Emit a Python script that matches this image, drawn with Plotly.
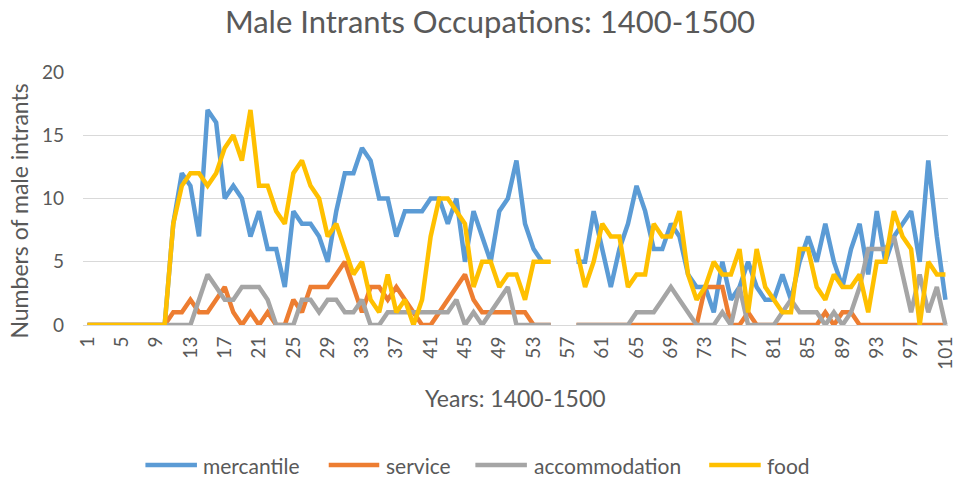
import plotly.graph_objects as go

years = list(range(1, 102))
tick_labels = list(range(1, 102, 4))

mercantile = [0, 0, 0, 0, 0, 0, 0, 0, 0, 0,
              8, 12, 11, 7, 17, 16, 10, 11, 10, 7,
              9, 6, 6, 3, 9, 8, 8, 7, 5, 9,
              12, 12, 14, 13, 10, 10, 7, 9, 9, 9,
              10, 10, 8, 10, 5, 9, 7, 5, 9, 10,
              13, 8, 6, 5, None, None, None, 5, 5, 9,
              6, 3, 6, 8, 11, 9, 6, 6, 8, 7,
              4, 3, 3, 1, 5, 2, 3, 5, 3, 2,
              2, 4, 2, 5, 7, 5, 8, 5, 3, 6,
              8, 4, 9, 5, 7, 8, 9, 5, 13, 7,
              2]

service = [0, 0, 0, 0, 0, 0, 0, 0, 0, 0,
           1, 1, 2, 1, 1, 2, 3, 1, 0, 1,
           0, 1, 0, 0, 2, 1, 3, 3, 3, 4,
           5, 3, 1, 3, 3, 2, 3, 2, 1, 0,
           0, 1, 2, 3, 4, 2, 1, 1, 1, 1,
           1, 1, 0, 0, 0, None, None, 0, 0, 0,
           0, 0, 0, 0, 0, 0, 0, 0, 0, 0,
           0, 0, 3, 3, 3, 0, 0, 1, 0, 0,
           0, 0, 0, 0, 0, 0, 1, 0, 1, 1,
           0, 0, 0, 0, 0, 0, 0, 0, 0, 0,
           0]

accommodation = [0, 0, 0, 0, 0, 0, 0, 0, 0, 0,
                 0, 0, 0, 2, 4, 3, 2, 2, 3, 3,
                 3, 2, 0, 0, 0, 2, 2, 1, 2, 2,
                 1, 1, 2, 0, 0, 1, 1, 1, 1, 1,
                 1, 1, 1, 2, 0, 1, 0, 1, 2, 3,
                 0, 0, 0, 0, 0, None, None, 0, 0, 0,
                 0, 0, 0, 0, 1, 1, 1, 2, 3, 2,
                 1, 0, 0, 0, 1, 0, 3, 0, 0, 0,
                 0, 1, 2, 1, 1, 1, 0, 1, 0, 1,
                 3, 6, 6, 6, 7, 4, 1, 4, 1, 3,
                 0]

food = [0, 0, 0, 0, 0, 0, 0, 0, 0, 0,
        8, 11, 12, 12, 11, 12, 14, 15, 13, 17,
        11, 11, 9, 8, 12, 13, 11, 10, 7, 8,
        6, 4, 5, 2, 1, 4, 1, 2, 0, 2,
        7, 10, 10, 9, 8, 3, 5, 5, 3, 4,
        4, 2, 5, 5, 5, None, None, 6, 3, 5,
        8, 7, 7, 3, 4, 4, 8, 7, 7, 9,
        4, 2, 3, 5, 4, 4, 6, 1, 6, 3,
        2, 1, 1, 6, 6, 3, 2, 4, 3, 3,
        4, 1, 5, 5, 9, 7, 6, 0, 5, 4,
        4]

series = [
    ("mercantile", mercantile, "#5B9BD5"),
    ("service", service, "#ED7D31"),
    ("accommodation", accommodation, "#A5A5A5"),
    ("food", food, "#FFC000"),
]

FONT = "Lato"
TXT = "#595959"

W, H = 965, 482
L, R, T, B = 83, 9, 72, 157
PW, PH = W - L - R, H - T - B


def px_x(x):
    return (x - L) / PW


def px_y(y):
    return (H - B - y) / PH


fig = go.Figure()
for name, vals, col in series:
    fig.add_trace(go.Scatter(
        x=years, y=vals, name=name, mode="lines",
        line=dict(color=col, width=4.5), connectgaps=False,
        showlegend=False,
    ))

# legend drawn as swatch lines + text (line swatches longer than plotly's default)
legend_pos = [(146, 198, 202), (331, 382, 387), (479, 531, 536), (715, 767, 771)]
shapes = []
annotations = []
LEG_Y = 465
for (name, _, col), (x0, x1, tx) in zip(series, legend_pos):
    shapes.append(dict(type="line", xref="paper", yref="paper",
                       x0=px_x(x0), x1=px_x(x1), y0=px_y(LEG_Y), y1=px_y(LEG_Y),
                       line=dict(color=col, width=4.5)))
    annotations.append(dict(text=name, xref="paper", yref="paper",
                            x=px_x(tx), y=px_y(LEG_Y), xanchor="left", yanchor="middle",
                            showarrow=False, font=dict(size=21, color=TXT, family=FONT)))

annotations += [
    dict(text="Years: 1400-1500", xref="paper", yref="paper",
         x=px_x(520), y=px_y(398), xanchor="center", yanchor="middle",
         showarrow=False, font=dict(size=23, color=TXT, family=FONT)),
    dict(text="Numbers of male intrants", xref="paper", yref="paper",
         x=px_x(18), y=px_y(211), xanchor="center", yanchor="middle", textangle=-90,
         showarrow=False, font=dict(size=23, color=TXT, family=FONT)),
]

fig.update_layout(
    width=W, height=H,
    margin=dict(l=L, r=R, t=T, b=B),
    paper_bgcolor="white", plot_bgcolor="white",
    font=dict(family=FONT, color=TXT),
    title=dict(text="Male Intrants Occupations: 1400-1500",
               x=490 / W, xref="container", xanchor="center",
               y=1 - 22 / H, yref="container", yanchor="middle",
               font=dict(size=31, color=TXT, family=FONT)),
    showlegend=False,
    xaxis=dict(range=[0.48, 101.3], tickmode="array", tickvals=tick_labels,
               ticktext=[str(v) for v in tick_labels], tickangle=-90,
               showgrid=False, showline=True, linecolor="#D9D9D9", linewidth=1,
               ticks="", ticklabelstandoff=3,
               tickfont=dict(size=19, color=TXT), zeroline=False),
    yaxis=dict(range=[0, 20], tickvals=[0, 5, 10, 15, 20],
               showgrid=True, gridcolor="#D9D9D9", gridwidth=1,
               zeroline=False, showline=False, ticks="",
               ticklabelstandoff=18,
               tickfont=dict(size=19, color=TXT)),
    shapes=shapes,
    annotations=annotations,
)

fig.write_html("out.html", config={"displayModeBar": False},
               post_script="document.body.style.margin='0';")
